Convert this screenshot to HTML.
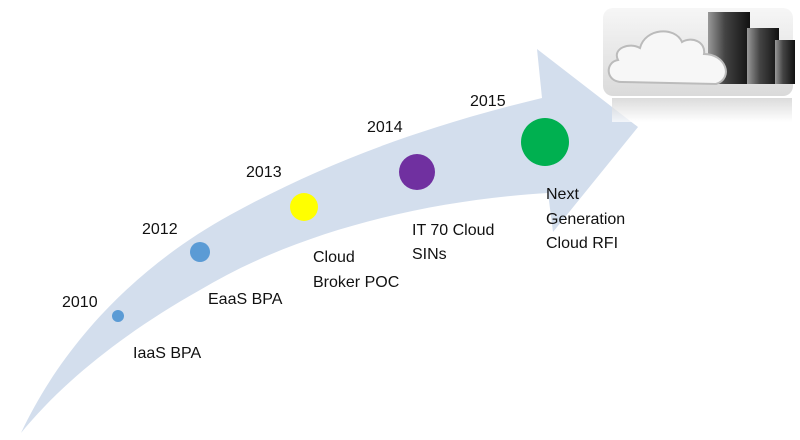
<!DOCTYPE html>
<html><head><style>
html,body{margin:0;padding:0;background:#fff;width:800px;height:440px;overflow:hidden}
svg{display:block}
text{font-family:"Liberation Sans",sans-serif;font-size:16px;fill:#111}
</style></head><body>
<svg width="800" height="440" viewBox="0 0 800 440">
<defs>
<linearGradient id="bg" x1="0" y1="0" x2="0" y2="1"><stop offset="0" stop-color="#f6f6f6"/><stop offset="1" stop-color="#dadada"/></linearGradient>
<linearGradient id="tw" x1="0" y1="0" x2="1" y2="0"><stop offset="0" stop-color="#999"/><stop offset="0.4" stop-color="#444"/><stop offset="1" stop-color="#111"/></linearGradient>
<linearGradient id="rf" x1="0" y1="0" x2="0" y2="1"><stop offset="0" stop-color="#ccc"/><stop offset="1" stop-color="#fff"/></linearGradient>
</defs>
<path d="M21,433 C60,350 130,270 230,215 C330,160 430,125 542,98 L537,49 L638,127 L553,232 L548,193 C430,200 300,230 200,290 C120,335 60,385 21,433 Z" fill="#d3deed"/>
<!-- cloud image -->
<rect x="603" y="8" width="190" height="88" rx="10" fill="url(#bg)"/>
<rect x="612" y="98" width="180" height="24" fill="url(#rf)" opacity="0.7"/>
<rect x="708" y="12" width="42" height="72" fill="url(#tw)"/>
<rect x="747" y="28" width="32" height="56" fill="url(#tw)"/>
<rect x="775" y="40" width="20" height="44" fill="url(#tw)"/>
<path d="M622,82 C605,82 605,62 618,60 C612,48 630,42 640,48 C645,28 675,26 682,42 C692,36 706,42 704,54 C726,54 734,78 716,84 Z" fill="#f7f7f7" stroke="#bbb" stroke-width="2"/>
<!-- circles -->
<circle cx="118" cy="316" r="6" fill="#5b9bd5"/>
<circle cx="200" cy="252" r="10" fill="#5b9bd5"/>
<circle cx="304" cy="207" r="14" fill="#ffff00"/>
<circle cx="417" cy="172" r="18" fill="#7030a0"/>
<circle cx="545" cy="142" r="24" fill="#00b050"/>
<text x="62" y="307">2010</text>
<text x="133" y="358">IaaS BPA</text>
<text x="142" y="234">2012</text>
<text x="208" y="304">EaaS BPA</text>
<text x="246" y="177">2013</text>
<text x="313" y="262">Cloud</text>
<text x="313" y="287">Broker POC</text>
<text x="367" y="132">2014</text>
<text x="412" y="235">IT 70 Cloud</text>
<text x="412" y="259">SINs</text>
<text x="470" y="106">2015</text>
<text x="546" y="199">Next</text>
<text x="546" y="224">Generation</text>
<text x="546" y="248">Cloud RFI</text>
</svg>
</body></html>
